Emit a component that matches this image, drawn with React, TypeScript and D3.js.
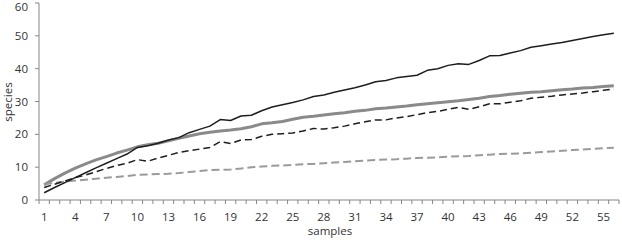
import React, { useEffect, useRef } from "react";
import * as d3 from "d3";

// samples 1..56
const samples: string[] = d3.range(1, 57).map(String);
const shownLabels = samples.filter((s, i) => i % 3 === 0);
const yTicks = [0, 10, 20, 30, 40, 50, 60];

const blackSolid = [2.2, 3.8, 5.3, 6.8, 8.3, 9.8, 11.2, 12.6, 14.0, 16.0, 16.5, 17.3, 18.3, 19.0, 20.5, 21.5, 22.5, 24.5, 24.2, 25.6,
  25.8, 27.2, 28.3, 29.0, 29.7, 30.5, 31.5, 32.0, 32.8, 33.5, 34.2, 35.0, 36.0, 36.4, 37.2, 37.6, 38.0, 39.5, 40.0, 41.0,
  41.5, 41.3, 42.5, 43.9, 44.0, 44.8, 45.5, 46.5, 47.0, 47.5, 48.0, 48.6, 49.2, 49.8, 50.3, 50.8];
const grayThick = [4.6, 6.5, 8.2, 9.7, 11.0, 12.2, 13.2, 14.3, 15.2, 16.2, 16.8, 17.3, 18.0, 18.8, 19.5, 20.2, 20.6, 21.0, 21.3, 21.7,
  22.3, 23.2, 23.5, 23.9, 24.6, 25.2, 25.5, 25.9, 26.3, 26.6, 27.0, 27.3, 27.8, 28.0, 28.3, 28.6, 29.0, 29.3, 29.6, 29.9,
  30.2, 30.6, 31.0, 31.5, 31.8, 32.2, 32.5, 32.8, 33.0, 33.3, 33.6, 33.8, 34.1, 34.3, 34.6, 34.8];
const blackDashed = [3.8, 4.8, 5.8, 6.8, 7.6, 8.6, 9.6, 10.5, 11.2, 12.3, 11.8, 12.8, 13.6, 14.5, 15.0, 15.5, 16.0, 17.8, 17.2, 18.3,
  18.4, 19.4, 20.0, 20.2, 20.4, 21.0, 21.8, 21.6, 22.0, 22.5, 23.2, 23.8, 24.4, 24.4, 25.0, 25.4, 26.0, 26.6, 27.0, 27.6,
  28.2, 27.6, 28.4, 29.3, 29.3, 29.8, 30.2, 31.0, 31.3, 31.6, 32.0, 32.3, 32.6, 33.0, 33.4, 33.8];
const grayDashed = [4.8, 5.2, 5.6, 5.9, 6.2, 6.5, 6.8, 7.0, 7.3, 7.7, 7.8, 7.9, 8.0, 8.2, 8.5, 8.8, 9.1, 9.2, 9.3, 9.6,
  10.0, 10.2, 10.4, 10.5, 10.7, 10.9, 11.0, 11.2, 11.4, 11.6, 11.8, 12.0, 12.2, 12.3, 12.4, 12.6, 12.8, 12.9, 13.0, 13.2,
  13.3, 13.4, 13.6, 13.8, 14.0, 14.1, 14.2, 14.4, 14.6, 14.8, 15.0, 15.2, 15.4, 15.6, 15.8, 15.9];

export default function App() {
  const ref = useRef<SVGSVGElement>(null);

  useEffect(() => {
    const width = 622, height = 240;
    const margin = { top: 3, right: 3, bottom: 40, left: 39 };
    const svg = d3.select(ref.current);
    svg.selectAll("*").remove();

    const x = d3.scaleBand().domain(samples).range([margin.left, width - margin.right]);
    const y = d3.scaleLinear().domain([0, 60]).range([height - margin.bottom, margin.top]);
    const cx = (s: string) => (x(s) as number) + x.bandwidth() / 2;
    const font = "'Open Sans', sans-serif";
    const fontSize = 11.5;
    const axisColor = "#868686";
    const textColor = "#333";

    // y axis
    svg.append("line")
      .attr("x1", margin.left).attr("x2", margin.left)
      .attr("y1", y(0)).attr("y2", y(60))
      .attr("stroke", axisColor).attr("stroke-width", 1);
    const yt = svg.append("g").selectAll("g").data(yTicks).join("g")
      .attr("transform", d => `translate(${margin.left},${y(d)})`);
    yt.append("line").attr("x1", -4).attr("x2", 0).attr("stroke", axisColor);
    // top label nudged down a bit so it isn't clipped
    yt.append("text")
      .attr("x", -11).attr("y", d => Math.max(0, 7 - y(d))).attr("dy", "0.35em")
      .attr("text-anchor", "end")
      .attr("font-family", font).attr("font-size", fontSize)
      .attr("fill", textColor)
      .text(d => d);

    // x axis, a tick between each sample
    svg.append("line")
      .attr("x1", margin.left).attr("x2", width - margin.right)
      .attr("y1", y(0)).attr("y2", y(0))
      .attr("stroke", axisColor);
    const bounds = samples.map(s => x(s) as number).concat([width - margin.right]);
    svg.append("g").selectAll("line").data(bounds).join("line")
      .attr("x1", d => d).attr("x2", d => d)
      .attr("y1", y(0)).attr("y2", y(0) + 4)
      .attr("stroke", axisColor);
    svg.append("g").selectAll("text").data(shownLabels).join("text")
      .attr("x", d => cx(d)).attr("y", y(0) + 21)
      .attr("text-anchor", "middle")
      .attr("font-family", font).attr("font-size", fontSize)
      .attr("fill", textColor)
      .text(d => d);

    svg.append("text")
      .attr("x", 330).attr("y", 235)
      .attr("text-anchor", "middle")
      .attr("font-family", font).attr("font-size", fontSize)
      .attr("fill", textColor)
      .text("samples");
    svg.append("text")
      .attr("transform", "translate(12,102) rotate(-90)")
      .attr("text-anchor", "middle")
      .attr("font-family", font).attr("font-size", fontSize)
      .attr("fill", textColor)
      .text("species");

    const line = d3.line<number>()
      .x((d, i) => cx(samples[i]))
      .y(d => y(d));

    const series = [
      { values: grayThick, color: "#8a8a8a", w: 3, dash: null },
      { values: grayDashed, color: "#9a9a9a", w: 2, dash: "8,4" },
      { values: blackDashed, color: "#1e1e1e", w: 1.5, dash: "7,4" },
      { values: blackSolid, color: "#1e1e1e", w: 1.5, dash: null },
    ];
    series.forEach(s => {
      svg.append("path")
        .datum(s.values)
        .attr("fill", "none")
        .attr("stroke", s.color)
        .attr("stroke-width", s.w)
        .attr("stroke-dasharray", s.dash)
        .attr("stroke-linejoin", "round")
        .attr("d", line);
    });
  }, []);

  return (
    <svg ref={ref} width={622} height={240}
      style={{ position: "absolute", left: 0, top: 0, background: "#fff" }} />
  );
}
